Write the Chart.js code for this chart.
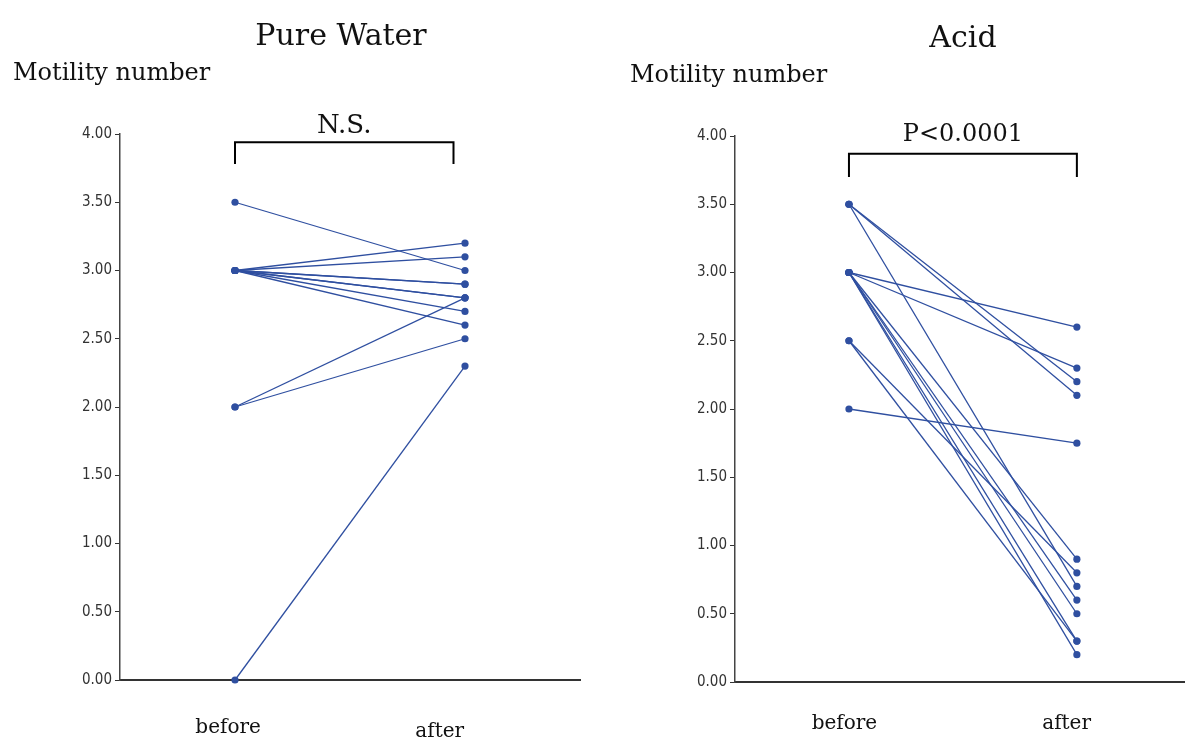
<!DOCTYPE html>
<html>
<head>
<meta charset="utf-8">
<script src="https://cdn.jsdelivr.net/npm/chart.js@4.4.0/dist/chart.umd.min.js"></script>
<style>
    html, body {margin: 0; padding: 0; background: #fff;}
    #wrap {position: relative; width: 1188px; height: 739px; overflow: hidden;}
    .panel {position: absolute; top: 0; width: 594px; height: 739px;}
</style>
</head>
<body>
<div id="wrap">
    <div class="panel" style="left:0"><canvas id="pure" width="594" height="739"></canvas></div>
    <div class="panel" style="left:594px"><canvas id="acid" width="594" height="739"></canvas></div>
</div>
<script>
const groupLabels = ['before', 'after'];
const yTicks = [0, 0.5, 1, 1.5, 2, 2.5, 3, 3.5, 4];

// one entry per subject: value before and after
const pureBefore = [3.5, 3.0, 3.0, 3.0, 3.0, 3.0, 3.0, 3.0, 3.0, 2.0, 2.0, 0.0];
const pureAfter  = [3.0, 3.2, 3.1, 2.9, 2.9, 2.8, 2.8, 2.7, 2.6, 2.8, 2.5, 2.3];

const acidBefore = [3.5, 3.5, 3.5, 3.0, 3.0, 3.0, 3.0, 3.0, 3.0, 3.0, 2.5, 2.5, 2.0];
const acidAfter  = [2.2, 2.1, 0.7, 2.6, 2.3, 0.9, 0.6, 0.5, 0.3, 0.2, 0.8, 0.3, 1.75];

const BLUE = '#2f4fa0';
const SERIF = '"DejaVu Serif", serif';
const NARROW = '"DejaVu Sans Condensed", "Liberation Sans Narrow", sans-serif';

function pairs(before, after) {
    return before.map((b, i) => ({
        data: [{x: 1, y: b}, {x: 3, y: after[i]}],
        borderColor: BLUE,
        backgroundColor: BLUE,
        borderWidth: 1.3,
        pointRadius: 3.6,
        pointBorderWidth: 0,
        clip: false
    }));
}

// titles, bracket and group labels
const annotate = {
    id: 'annotate',
    afterDraw(chart, args, o) {
        const {ctx, scales: {x, y}} = chart;
        ctx.save();
        ctx.fillStyle = '#111';
        ctx.textBaseline = 'alphabetic';

        ctx.font = `30px ${SERIF}`;
        ctx.textAlign = 'center';
        ctx.fillText(o.title, o.titleX, o.titleY);

        ctx.font = `24px ${SERIF}`;
        ctx.textAlign = 'left';
        ctx.fillText('Motility number', o.labelX, o.labelY);

        const x0 = x.getPixelForValue(o.bracket[0]);
        const x1 = x.getPixelForValue(o.bracket[1]);
        const yt = y.getPixelForValue(o.bracket[2]);
        const yb = y.getPixelForValue(o.bracket[3]);
        ctx.strokeStyle = '#000';
        ctx.lineWidth = 2;
        ctx.beginPath();
        ctx.moveTo(x0, yb);
        ctx.lineTo(x0, yt);
        ctx.lineTo(x1, yt);
        ctx.lineTo(x1, yb);
        ctx.stroke();

        ctx.font = `${o.sigSize}px ${SERIF}`;
        ctx.textAlign = 'center';
        ctx.fillText(o.sig, (x0 + x1) / 2, yt - o.sigGap);

        ctx.font = `20px ${SERIF}`;
        o.groups.forEach((g, i) => {
            ctx.fillText(groupLabels[i], x.getPixelForValue(g[0]), g[1]);
        });
        ctx.restore();
    }
};

function makeChart(id, before, after, xMax, yWidth, padding, opts) {
    return new Chart(document.getElementById(id), {
        type: 'line',
        data: {datasets: pairs(before, after)},
        plugins: [annotate],
        options: {
            responsive: false,
            animation: false,
            layout: {padding: padding},
            plugins: {
                legend: {display: false},
                tooltip: {enabled: false},
                annotate: opts
            },
            scales: {
                x: {
                    type: 'linear',
                    min: 0,
                    max: xMax,
                    ticks: {display: false},
                    grid: {display: false},
                    border: {display: true, color: '#333', width: 2},
                    afterFit: s => { s.height = 0; }
                },
                y: {
                    min: 0,
                    max: 4,
                    afterBuildTicks: s => { s.ticks = yTicks.map(v => ({value: v})); },
                    ticks: {
                        callback: v => v.toFixed(2),
                        color: '#333',
                        font: {family: NARROW, size: 15},
                        padding: 3
                    },
                    grid: {display: true, drawOnChartArea: false, drawTicks: true, tickLength: 5, color: '#333'},
                    border: {display: true, color: '#444', width: 1.5},
                    afterFit: s => { s.width = yWidth; }
                }
            }
        }
    });
}

makeChart('pure', pureBefore, pureAfter, 4, 120, {top: 134, bottom: 59, left: 0, right: 14}, {
    title: 'Pure Water', titleX: 341, titleY: 45,
    labelX: 13, labelY: 80,
    bracket: [1.0, 2.9, 3.94, 3.78],
    sig: 'N.S.', sigSize: 26, sigGap: 9,
    groups: [[0.94, 733], [2.78, 737]]
});

makeChart('acid', acidBefore, acidAfter, 3.94, 141, {top: 136, bottom: 57, left: 0, right: 0}, {
    title: 'Acid', titleX: 369, titleY: 47,
    labelX: 36, labelY: 82,
    bracket: [1.0, 3.0, 3.87, 3.70],
    sig: 'P<0.0001', sigSize: 24, sigGap: 13,
    groups: [[0.96, 729], [2.91, 729]]
});
</script>
</body>
</html>
